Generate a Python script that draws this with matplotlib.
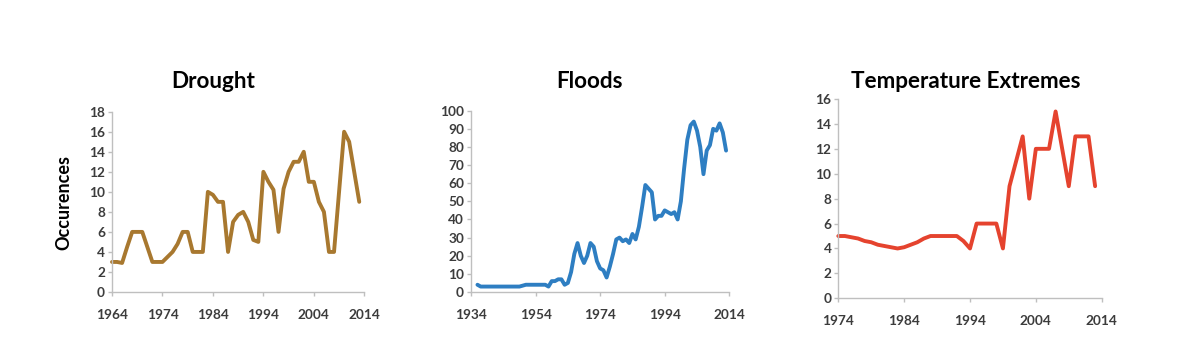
import matplotlib
matplotlib.use("Agg")
import matplotlib.pyplot as plt

plt.rcParams['font.family'] = ['Lato', 'DejaVu Sans']

# ---------------- data ----------------
drought_years = list(range(1964, 2014))
drought_vals = [3, 3, 2.9, 4.5, 6, 6, 6, 4.5, 3, 3,
                3, 3.5, 4, 4.8, 6, 6, 4, 4, 4, 10,
                9.7, 9, 9, 4, 7, 7.7, 8, 7, 5.2, 5,
                12, 11, 10.2, 6, 10.3, 12, 13, 13, 14, 11,
                11, 9, 8, 4, 4, 10, 16, 15, 12, 9]

flood_years = list(range(1936, 2014))
flood_vals = [4, 3, 3, 3, 3, 3, 3, 3, 3, 3,
              3, 3, 3, 3, 3.5, 4, 4, 4, 4, 4,
              4, 4, 3, 6, 6, 7, 7, 4, 5, 11,
              21, 27, 20, 16, 20, 27, 25, 17, 13, 12,
              8, 14, 21, 29, 30, 28, 29, 27, 32, 29,
              36, 47, 59, 57, 55, 40, 42, 42, 45, 44,
              43, 44, 40, 50, 68, 84, 92, 94, 89, 80,
              65, 78, 81, 90, 89, 93, 88, 78]

temp_years = list(range(1974, 2014))
temp_vals = [5, 5, 4.9, 4.8, 4.6, 4.5, 4.3, 4.2, 4.1, 4,
             4.1, 4.3, 4.5, 4.8, 5, 5, 5, 5, 5, 4.6,
             4, 6, 6, 6, 6, 4, 9, 11, 13, 8,
             12, 12, 12, 15, 12, 9, 13, 13, 13, 9]

titles = ["Drought", "Floods", "Temperature Extremes"]
ylabel_text = "Occurences"
drought_xticks = [1964, 1974, 1984, 1994, 2004, 2014]
flood_xticks = [1934, 1954, 1974, 1994, 2014]
temp_xticks = [1974, 1984, 1994, 2004, 2014]
drought_yticks = list(range(0, 19, 2))
flood_yticks = list(range(0, 101, 10))
temp_yticks = list(range(0, 17, 2))

# ---------------- figure ----------------
W, H = 1200, 348
fig = plt.figure(figsize=(W / 100, H / 100), dpi=100)
fig.patch.set_facecolor('white')


def rect(x0, x1, ybot, ytop):
    return [x0 / W, 1 - ybot / H, (x1 - x0) / W, (ybot - ytop) / H]


spine_col = '#BFBFBF'
tick_col = '#3C3C3C'

panels = [
    dict(rect=rect(112, 364.3, 292, 111.7), x=drought_years, y=drought_vals,
         color='#A8782F', xt=drought_xticks, yt=drought_yticks,
         title=titles[0], tpos=(213, 88)),
    dict(rect=rect(471, 729.3, 292, 110.7), x=flood_years, y=flood_vals,
         color='#2E7EC2', xt=flood_xticks, yt=flood_yticks,
         title=titles[1], tpos=(590, 87.5)),
    dict(rect=rect(838.3, 1101.7, 298.3, 99), x=temp_years, y=temp_vals,
         color='#E5432E', xt=temp_xticks, yt=temp_yticks,
         title=titles[2], tpos=(966, 88)),
]

for p in panels:
    ax = fig.add_axes(p['rect'])
    ax.plot(p['x'], p['y'], color=p['color'], lw=2.8,
            solid_joinstyle='round', solid_capstyle='round', clip_on=False)
    ax.set_xlim(p['xt'][0], p['xt'][-1])
    ax.set_ylim(p['yt'][0], p['yt'][-1])
    ax.set_xticks(p['xt'])
    ax.set_yticks(p['yt'])
    for s in ['top', 'right']:
        ax.spines[s].set_visible(False)
    for s in ['left', 'bottom']:
        ax.spines[s].set_color(spine_col)
        ax.spines[s].set_linewidth(1.0)
    ax.tick_params(axis='x', direction='out', length=3, width=1.0,
                   color=spine_col, labelcolor=tick_col, labelsize=9.8, pad=9)
    ax.tick_params(axis='y', direction='out', length=3, width=1.0,
                   color=spine_col, labelcolor=tick_col, labelsize=9.8, pad=2)
    for lab in ax.get_xticklabels() + ax.get_yticklabels():
        lab.set_fontweight('bold')
    ax.set_facecolor('white')
    fig.text(p['tpos'][0] / W, 1 - p['tpos'][1] / H, p['title'],
             ha='center', va='baseline', fontsize=16.2, fontweight='bold',
             color='black')

fig.text(64 / W, 1 - 202.5 / H, ylabel_text, rotation=90, ha='center',
         va='center', fontsize=13, fontweight='bold', color='black')

fig.savefig('out.png', dpi=100, facecolor='white')
